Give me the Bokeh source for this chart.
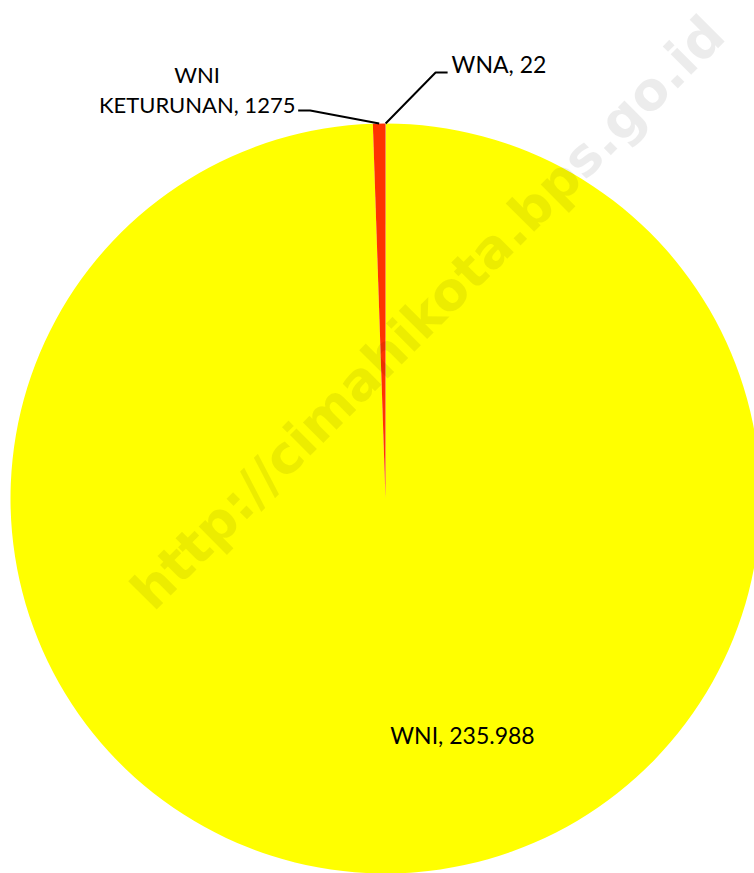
import math
from bokeh.plotting import figure
from bokeh.models import ColumnDataSource
from bokeh.core.properties import value
from bokeh.embed import file_html
from bokeh.resources import INLINE

# ---- data ----
categories = ["WNA", "WNI", "WNI KETURUNAN"]
values = [22, 235988, 1275]
label_texts = ["WNA, 22", "WNI, 235.988", "WNI\nKETURUNAN, 1275"]
colors = ["#4472C4", "#FFFF00", "#FF3300"]
watermark = "http://cimahikota.bps.go.id"

W, H = 754, 873
p = figure(width=W, height=H, x_range=(0, W), y_range=(0, H),
           output_backend="svg", toolbar_location=None, min_border=0)
p.axis.visible = False
p.grid.visible = False
p.outline_line_color = None
p.background_fill_color = "white"

cx, cy, r = 385, 375, 375
total = sum(values)
starts, ends = [], []
cum = 0
for v in values:
    starts.append(math.pi / 2 - 2 * math.pi * cum / total)
    cum += v
    ends.append(math.pi / 2 - 2 * math.pi * cum / total)

src = ColumnDataSource(dict(cat=categories, val=values, start=starts, end=ends, color=colors))
p.wedge(x=cx, y=cy, radius=r, start_angle="start", end_angle="end", direction="clock",
        fill_color="color", line_color=None, source=src)

# anchors on the pie edge at mid angle
mids = [(s + e) / 2 for s, e in zip(starts, ends)]
anc = [(cx + r * math.cos(m), cy + r * math.sin(m)) for m in mids]

font = value("Lato")

# WNA label (right, above)
ax, ay = anc[0]
p.line([ax, ax + 50, ax + 62], [ay, ay + 51, ay + 51], line_color="black", line_width=2)
p.text(x=[ax + 66], y=[ay + 60], text=[label_texts[0]], text_font=font, text_font_size="23px",
       text_baseline="middle", text_align="left", text_color="black")

# WNI KETURUNAN label (left, above)
kx, ky = anc[2]
p.line([kx, kx - 69, kx - 81], [ky, ky + 13, ky + 13], line_color="black", line_width=2)
p.text(x=[kx - 182], y=[ky + 34], text=[label_texts[2]], text_font=font, text_font_size="22px",
       text_baseline="middle", text_align="center", text_color="black", text_line_height=1.1)

# WNI label inside
p.text(x=[cx + 77], y=[cy - 236], text=[label_texts[1]], text_font=font, text_font_size="23px",
       text_baseline="middle", text_align="center", text_color="black")

# watermark
p.text(x=[427], y=[561], text=[watermark], angle=math.pi / 4, text_font=value("DejaVu Sans"),
       text_font_style="bold", text_font_size="53px", text_align="center",
       text_baseline="middle", text_color="black", text_alpha=0.075)

open("out.html", "w").write(file_html(p, INLINE))
